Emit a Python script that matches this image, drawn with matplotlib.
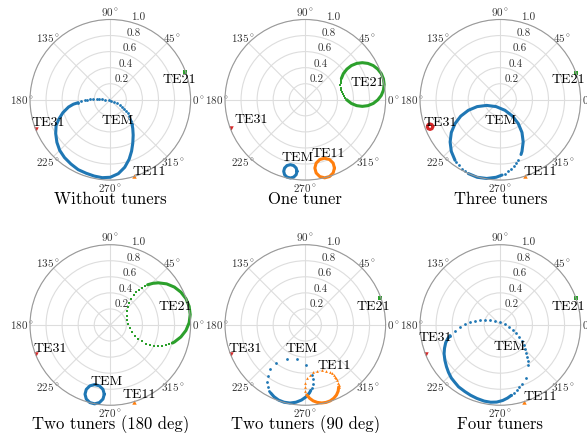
import numpy as np
import matplotlib
matplotlib.use("Agg")
import matplotlib.pyplot as plt

plt.rcParams["font.family"] = "serif"
plt.rcParams["font.serif"] = ["cmr10"]
plt.rcParams["mathtext.fontset"] = "cm"
plt.rcParams["axes.formatter.use_mathtext"] = True

# axes ticks / titles --------------------------------------------------------
THETA_TICKS = [0, 45, 90, 135, 180, 225, 270, 315]
THETA_LABELS = [r"$%d^\circ$" % d for d in THETA_TICKS]
R_TICKS = [0.2, 0.4, 0.6, 0.8, 1.0]
R_LABELS = ["0.2", "0.4", "0.6", "0.8", "1.0"]
TITLES = ["Without tuners", "One tuner", "Three tuners",
          "Two tuners (180 deg)", "Two tuners (90 deg)", "Four tuners"]

# reflection coefficients (Re, Im) -------------------------------------------
# "dots" = separate markers, "band" = places where the markers merge into a thick line

# Without tuners
p1_tem_dots = [(-0.40, -0.036), (-0.36, -0.019), (-0.32, -0.007), (-0.29, 0.002), (-0.25, 0.006),
               (-0.21, 0.010), (-0.17, 0.010), (-0.14, 0.010), (-0.10, 0.006), (-0.06, 0.002),
               (-0.02, -0.007), (0.013, -0.015), (0.05, -0.027), (0.083, -0.044), (0.117, -0.061),
               (0.146, -0.085), (0.171, -0.110), (0.196, -0.139), (0.216, -0.169), (0.232, -0.202),
               (0.249, -0.235), (0.262, -0.268), (0.270, -0.301)]
p1_tem_band = [(0.27, -0.30), (0.28, -0.36), (0.285, -0.44), (0.28, -0.54), (0.265, -0.64),
               (0.235, -0.74), (0.18, -0.84), (0.10, -0.92), (0.0, -0.965), (-0.10, -0.97),
               (-0.20, -0.95), (-0.30, -0.915), (-0.40, -0.87), (-0.49, -0.80), (-0.57, -0.72),
               (-0.63, -0.63), (-0.665, -0.53), (-0.68, -0.42), (-0.675, -0.32), (-0.64, -0.24),
               (-0.59, -0.16), (-0.52, -0.09), (-0.46, -0.055), (-0.40, -0.036)]
p1_te11 = [(0.29, -0.955)]
p1_te21 = [(0.93, 0.35)]
p1_te31 = [(-0.93, -0.37)]

# One tuner
p2_tem_band = [(-0.103, -0.891), (-0.114, -0.850), (-0.145, -0.819), (-0.186, -0.808),
               (-0.228, -0.819), (-0.258, -0.850), (-0.269, -0.891), (-0.258, -0.933),
               (-0.228, -0.963), (-0.186, -0.974), (-0.145, -0.963), (-0.114, -0.933),
               (-0.103, -0.891)]
p2_te11_band = [(0.363, -0.85), (0.347, -0.789), (0.302, -0.744), (0.241, -0.728),
                (0.180, -0.744), (0.135, -0.789), (0.119, -0.85), (0.135, -0.911),
                (0.180, -0.956), (0.241, -0.972), (0.302, -0.956), (0.347, -0.911),
                (0.363, -0.85)]
p2_te21_dots = [(0.449, 0.265), (0.442, 0.237), (0.439, 0.209), (0.438, 0.180), (0.441, 0.152),
                (0.446, 0.124), (0.454, 0.097), (0.465, 0.071), (0.479, 0.046), (0.496, 0.022),
                (0.514, 0.001)]
p2_te21_band = [(0.514, 0.001), (0.574, -0.046), (0.64, -0.073), (0.71, -0.082), (0.78, -0.073),
                (0.846, -0.046), (0.902, -0.002), (0.946, 0.054), (0.973, 0.12), (0.982, 0.19),
                (0.973, 0.26), (0.946, 0.326), (0.902, 0.382), (0.846, 0.426), (0.78, 0.453),
                (0.71, 0.462), (0.64, 0.453), (0.574, 0.426), (0.518, 0.382), (0.474, 0.326),
                (0.449, 0.265)]
p2_te31 = [(-0.929, -0.347)]

# Three tuners
p3_tem_dots = [(0.058, -0.919), (0.098, -0.893), (0.134, -0.863), (0.168, -0.829),
               (0.198, -0.793), (0.224, -0.753), (-0.552, -0.773), (-0.519, -0.818),
               (-0.480, -0.858), (-0.438, -0.893)]
p3_tem_band1 = [(-0.398, -0.919), (-0.288, -0.965), (-0.17, -0.98), (-0.052, -0.965),
                (0.022, -0.937)]
p3_tem_band2 = [(0.258, -0.681), (0.27, -0.643), (0.285, -0.525), (0.27, -0.407),
                (0.224, -0.297), (0.152, -0.203), (0.058, -0.131), (-0.052, -0.085),
                (-0.17, -0.07), (-0.288, -0.085), (-0.398, -0.131), (-0.492, -0.203),
                (-0.564, -0.297), (-0.61, -0.407), (-0.625, -0.525), (-0.61, -0.643),
                (-0.564, -0.753)]
p3_te31_band = [(-0.84, -0.335), (-0.85, -0.31), (-0.875, -0.30), (-0.90, -0.31), (-0.91, -0.335),
                (-0.90, -0.36), (-0.875, -0.37), (-0.85, -0.36), (-0.84, -0.335)]
p3_te11 = [(0.305, -0.95)]
p3_te21 = [(0.94, 0.335)]

# Two tuners (180 deg)
p4_te21_dots = [(0.465, 0.501), (0.427, 0.485), (0.391, 0.465), (0.357, 0.441), (0.321, 0.409),
                (0.289, 0.373), (0.258, 0.328), (0.234, 0.278), (0.217, 0.226), (0.207, 0.171),
                (0.205, 0.116), (0.211, 0.061), (0.224, 0.008), (0.245, -0.043), (0.273, -0.091),
                (0.307, -0.134), (0.346, -0.173), (0.391, -0.205), (0.439, -0.231), (0.491, -0.250),
                (0.545, -0.261), (0.60, -0.265), (0.648, -0.262), (0.696, -0.253), (0.735, -0.241),
                (0.773, -0.225)]
p4_te21_band = [(0.773, -0.225), (0.798, -0.212), (0.879, -0.149), (0.942, -0.068), (0.982, 0.028),
                (0.995, 0.13), (0.982, 0.232), (0.942, 0.328), (0.879, 0.409), (0.798, 0.472),
                (0.702, 0.512), (0.60, 0.525), (0.531, 0.519), (0.465, 0.501)]
p4_tem_band = [(-0.075, -0.862), (-0.091, -0.802), (-0.135, -0.758), (-0.195, -0.742),
               (-0.255, -0.758), (-0.299, -0.802), (-0.315, -0.862), (-0.299, -0.922),
               (-0.255, -0.966), (-0.195, -0.982), (-0.135, -0.966), (-0.091, -0.922),
               (-0.075, -0.862)]
p4_te11 = [(0.29, -0.955)]
p4_te31 = [(-0.93, -0.36)]

# Two tuners (90 deg)
p5_tem_dots = [(0.082, -0.617), (0.094, -0.675), (0.093, -0.735), (0.081, -0.788),
               (0.008, -0.495), (-0.107, -0.428), (-0.234, -0.418), (-0.362, -0.472),
               (-0.434, -0.553), (-0.466, -0.631), (-0.475, -0.705), (-0.466, -0.769),
               (-0.448, -0.821)]
p5_tem_band = [(-0.432, -0.845), (-0.39, -0.893), (-0.333, -0.935), (-0.264, -0.962),
               (-0.19, -0.972), (-0.116, -0.962), (-0.048, -0.935), (0.012, -0.893),
               (0.052, -0.845), (0.068, -0.815)]
p5_te11_dots = [(0.416, -0.772), (0.414, -0.744), (0.409, -0.717), (0.40, -0.691), (0.388, -0.666),
                (0.372, -0.643), (0.354, -0.622), (0.333, -0.604), (0.31, -0.588), (0.259, -0.567),
                (0.204, -0.56), (0.149, -0.567), (0.098, -0.588), (0.054, -0.622), (0.02, -0.666),
                (-0.001, -0.717), (-0.008, -0.772), (-0.001, -0.827), (0.02, -0.878)]
p5_te11_band = [(0.02, -0.872), (0.054, -0.913), (0.098, -0.945), (0.149, -0.964), (0.204, -0.971),
                (0.259, -0.964), (0.31, -0.945), (0.354, -0.913), (0.388, -0.872), (0.409, -0.824),
                (0.416, -0.772)]
p5_te21 = [(0.935, 0.335)]
p5_te31 = [(-0.925, -0.365)]

# Four tuners
p6_tem_dots = [(-0.626, -0.133), (-0.564, -0.075), (-0.502, -0.029), (-0.440, 0.008),
               (-0.377, 0.033), (-0.315, 0.050), (-0.253, 0.062), (-0.19, 0.066),
               (-0.128, 0.062), (-0.066, 0.054), (-0.004, 0.037), (0.054, 0.012),
               (0.108, -0.021), (0.158, -0.058), (0.2, -0.1), (0.237, -0.145),
               (0.266, -0.195), (0.291, -0.245), (0.308, -0.295), (0.324, -0.345),
               (0.332, -0.394), (0.341, -0.444), (0.345, -0.498), (0.316, -0.656),
               (0.274, -0.731), (0.237, -0.776), (0.204, -0.814), (0.171, -0.847),
               (0.137, -0.876)]
p6_tem_band = [(0.137, -0.876), (0.09, -0.91), (0.03, -0.94), (-0.045, -0.96), (-0.12, -0.962),
               (-0.20, -0.948), (-0.29, -0.915), (-0.37, -0.875), (-0.44, -0.83), (-0.52, -0.77),
               (-0.57, -0.71), (-0.61, -0.66), (-0.645, -0.59), (-0.67, -0.52), (-0.69, -0.44),
               (-0.70, -0.36), (-0.695, -0.29), (-0.68, -0.22), (-0.655, -0.17), (-0.626, -0.133)]
p6_te11 = [(0.30, -0.955)]
p6_te21 = [(0.94, 0.34)]
p6_te31 = [(-0.929, -0.365)]

panels = [
    {"TEM": {"dots": p1_tem_dots, "bands": [p1_tem_band]},
     "TE11": {"dots": p1_te11}, "TE21": {"dots": p1_te21}, "TE31": {"dots": p1_te31}},
    {"TEM": {"bands": [p2_tem_band]}, "TE11": {"bands": [p2_te11_band]},
     "TE21": {"dots": p2_te21_dots, "bands": [p2_te21_band]}, "TE31": {"dots": p2_te31}},
    {"TEM": {"dots": p3_tem_dots, "bands": [p3_tem_band1, p3_tem_band2]},
     "TE11": {"dots": p3_te11}, "TE21": {"dots": p3_te21}, "TE31": {"bands": [p3_te31_band]}},
    {"TEM": {"bands": [p4_tem_band]}, "TE11": {"dots": p4_te11},
     "TE21": {"dots": p4_te21_dots, "bands": [p4_te21_band]}, "TE31": {"dots": p4_te31}},
    {"TEM": {"dots": p5_tem_dots, "bands": [p5_tem_band]},
     "TE11": {"dots": p5_te11_dots, "bands": [p5_te11_band]},
     "TE21": {"dots": p5_te21}, "TE31": {"dots": p5_te31}},
    {"TEM": {"dots": p6_tem_dots, "bands": [p6_tem_band]},
     "TE11": {"dots": p6_te11}, "TE21": {"dots": p6_te21}, "TE31": {"dots": p6_te31}},
]

# where the mode names sit (x, baseline) in units of the outer circle radius
label_pos = [
    {"TEM": (0.086, -0.301), "TE21": (0.856, 0.205), "TE31": (-0.767, -0.326), "TE11": (0.482, -0.936)},
    {"TEM": (-0.099, -0.758), "TE21": (0.775, 0.172), "TE31": (-0.674, -0.293), "TE11": (0.285, -0.716)},
    {"TEM": (0.009, -0.301), "TE21": (0.853, 0.205), "TE31": (-0.747, -0.326), "TE11": (0.499, -0.936)},
    {"TEM": (-0.052, -0.747), "TE21": (0.812, 0.187), "TE31": (-0.747, -0.332), "TE11": (0.363, -0.913)},
    {"TEM": (-0.045, -0.340), "TE21": (0.851, 0.187), "TE31": (-0.747, -0.332), "TE11": (0.364, -0.548)},
    {"TEM": (0.117, -0.311), "TE21": (0.852, 0.187), "TE31": (-0.805, -0.199), "TE11": (0.499, -0.934)},
]

style = {"TEM": ("#1f77b4", "o"), "TE11": ("#ff7f0e", "^"),
         "TE21": ("#2ca02c", "s"), "TE31": ("#d62728", "v")}


def to_polar(pts):
    z = np.array([complex(a, b) for a, b in pts])
    return np.unwrap(np.angle(z)), np.abs(z)


fig = plt.figure(figsize=(5.87, 4.33), dpi=100)
lefts = [0.0511, 0.3833, 0.7155]
bottoms = [0.5841, 0.0640]
w, h = 0.2736, 0.3709

for k in range(6):
    ax = fig.add_axes([lefts[k % 3], bottoms[k // 3], w, h], projection="polar")
    ax.set_ylim(0, 1)
    ax.set_rticks(R_TICKS)
    ax.set_yticklabels(R_LABELS)
    ax.set_rlabel_position(75)
    ax.set_thetagrids(THETA_TICKS, THETA_LABELS)
    ax.tick_params(labelsize=8, colors="#333333")
    ax.tick_params(axis="x", pad=-5)
    ax.grid(color="#dddddd", lw=0.8)
    ax.spines["polar"].set_color("#999999")
    ax.spines["polar"].set_linewidth(0.8)

    for mode, parts in panels[k].items():
        color, marker = style[mode]
        for band in parts.get("bands", []):
            th, r = to_polar(band)
            ax.plot(th, r, color=color, lw=2.2, solid_capstyle="round", clip_on=False)
        if "dots" in parts:
            th, r = to_polar(parts["dots"])
            ms = 3.2 if len(th) == 1 else 2.0
            ax.plot(th, r, ls="none", marker=marker, ms=ms, color=color, mew=0, clip_on=False)

    for mode, (nx, ny) in label_pos[k].items():
        ax.text(0.5 + 0.5 * nx, 0.5 + 0.5 * ny, mode, transform=ax.transAxes,
                ha="center", va="baseline", fontsize=10)

    ax.text(0.5, -0.147, TITLES[k], transform=ax.transAxes,
            ha="center", va="baseline", fontsize=12)

fig.savefig("out.png", dpi=100)
